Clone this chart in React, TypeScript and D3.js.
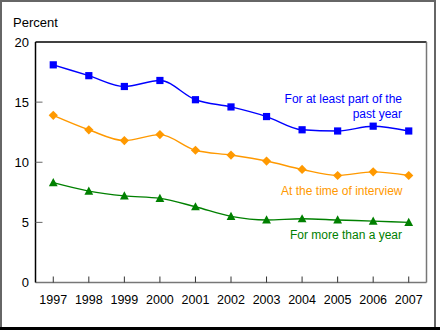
import React from "react";
import * as d3 from "d3";

const years = ["1997", "1998", "1999", "2000", "2001", "2002", "2003", "2004", "2005", "2006", "2007"];
const partYear = [18.1, 17.2, 16.3, 16.8, 15.2, 14.6, 13.8, 12.7, 12.6, 13.0, 12.6];
const atInterview = [13.9, 12.7, 11.8, 12.3, 11.0, 10.6, 10.1, 9.4, 8.9, 9.2, 8.9];
const moreThanYear = [8.3, 7.6, 7.2, 7.0, 6.3, 5.5, 5.2, 5.3, 5.2, 5.1, 5.0];
const yTicks = [0, 5, 10, 15, 20];

const W = 440;
const H = 330;
const L = 35.5, R = 426.5, T = 42, B = 282.5;
const FONT = "'Liberation Sans', Arial, Helvetica, sans-serif";

export default function App() {
  const x = d3.scalePoint<string>().domain(years).range([L, R]).padding(0.5);
  const y = d3.scaleLinear().domain([0, 20]).range([B, T]);
  const line = d3
    .line<number>()
    .x((_, i) => x(years[i]) as number)
    .y((d) => y(d))
    .curve(d3.curveMonotoneX);

  const blue = "#0000ff";
  const orange = "#ff9900";
  const green = "#008000";

  const square = (cx: number, cy: number, k: string) => (
    <rect key={k} x={cx - 3.6} y={cy - 3.6} width={7.2} height={7.2} fill={blue} />
  );
  const diamond = (cx: number, cy: number, k: string) => (
    <path key={k} d={`M${cx},${cy - 4.6}L${cx + 4.6},${cy}L${cx},${cy + 4.6}L${cx - 4.6},${cy}Z`} fill={orange} />
  );
  const triangle = (cx: number, cy: number, k: string) => (
    <path key={k} d={`M${cx},${cy - 4.6}L${cx + 4.4},${cy + 3.6}L${cx - 4.4},${cy + 3.6}Z`} fill={green} />
  );

  return (
    <svg
      width={W}
      height={H}
      style={{ position: "absolute", left: 0, top: 0, background: "#fff" }}
      fontFamily={FONT}
    >
      {/* outer frame */}
      <line x1={1} y1={0} x2={1} y2={330} stroke="#666" strokeWidth={2} />
      <line x1={0} y1={1} x2={436} y2={1} stroke="#666" strokeWidth={2} />
      <line x1={435} y1={0} x2={435} y2={330} stroke="#666" strokeWidth={2} />
      <line x1={0} y1={328.5} x2={440} y2={328.5} stroke="#000" strokeWidth={3} />

      {/* plot box */}
      <line x1={L} y1={T} x2={R} y2={T} stroke="#000" strokeWidth={1.5} />
      <line x1={R} y1={T} x2={R} y2={B} stroke="#777" strokeWidth={1.5} />
      <line x1={L} y1={B} x2={R} y2={B} stroke="#777" strokeWidth={1.5} />
      <line x1={L} y1={T} x2={L} y2={B} stroke="#000" strokeWidth={1.5} />

      {/* y ticks & labels */}
      {yTicks.map((t) => (
        <g key={t}>
          {t > 0 && t < 20 && (
            <line x1={L} x2={L + 7} y1={y(t)} y2={y(t)} stroke="#666" strokeWidth={1} />
          )}
          <text x={29} y={y(t)} dy="0.36em" textAnchor="end" fontSize={13} fill="#000">
            {t}
          </text>
        </g>
      ))}
      <text x={13} y={27} fontSize={13} fill="#000">Percent</text>

      {/* x ticks & labels */}
      {years.map((yr) => (
        <g key={yr}>
          <line x1={x(yr)} x2={x(yr)} y1={B} y2={B - 6} stroke="#333" strokeWidth={1} />
          <text x={x(yr)} y={303.5} textAnchor="middle" fontSize={12.5} fill="#000">
            {yr}
          </text>
        </g>
      ))}

      {/* series */}
      <path d={line(partYear) || ""} fill="none" stroke={blue} strokeWidth={1.4} />
      <path d={line(atInterview) || ""} fill="none" stroke={orange} strokeWidth={1.4} />
      <path d={line(moreThanYear) || ""} fill="none" stroke={green} strokeWidth={1.4} />
      {partYear.map((v, i) => square(x(years[i]) as number, y(v), "s" + i))}
      {atInterview.map((v, i) => diamond(x(years[i]) as number, y(v), "d" + i))}
      {moreThanYear.map((v, i) => triangle(x(years[i]) as number, y(v), "t" + i))}

      {/* series labels */}
      <text x={402} y={103} textAnchor="end" fontSize={12} fill={blue}>For at least part of the</text>
      <text x={402} y={117.5} textAnchor="end" fontSize={12} fill={blue}>past year</text>
      <text x={402.5} y={194.5} textAnchor="end" fontSize={12} fill={orange}>At the time of interview</text>
      <text x={402} y={238.5} textAnchor="end" fontSize={12} fill={green}>For more than a year</text>
    </svg>
  );
}
